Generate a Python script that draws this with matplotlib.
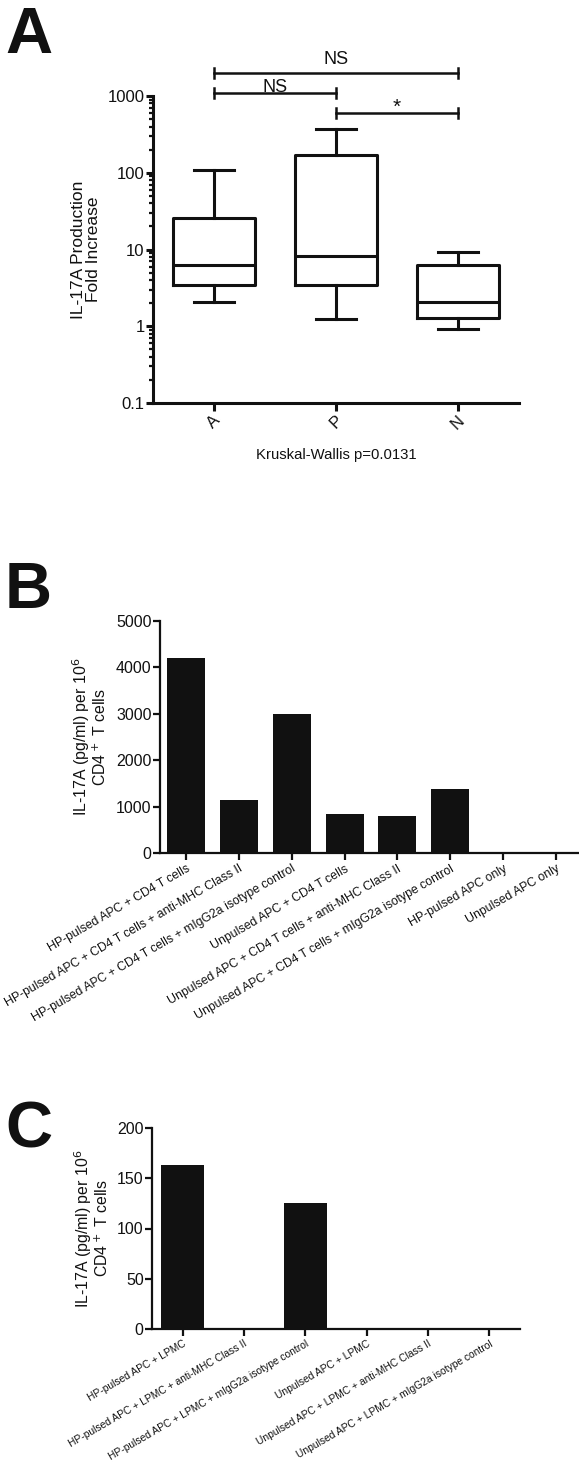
import matplotlib.pyplot as plt
import numpy as np

plt.rcParams['font.family'] = ['Liberation Sans', 'DejaVu Sans']

# Panel A: box plot stats (fold increase, log scale)
groups = ['A', 'P', 'N']
whis_low = [2.1, 1.26, 0.93]
q1 = [3.45, 3.45, 1.29]
medians = [6.3, 8.2, 2.1]
q3 = [26, 168, 6.3]
whis_high = [107, 374, 9.4]

# significance brackets: (left group, right group, height, label)
brackets = [(0, 2, 1995, 'NS'), (0, 1, 1094, 'NS'), (1, 2, 603, '*')]

# Panel B
b_labels = ['HP-pulsed APC + CD4 T cells',
            'HP-pulsed APC + CD4 T cells + anti-MHC Class II',
            'HP-pulsed APC + CD4 T cells + mIgG2a isotype control',
            'Unpulsed APC + CD4 T cells',
            'Unpulsed APC + CD4 T cells + anti-MHC Class II',
            'Unpulsed APC + CD4 T cells + mIgG2a isotype control',
            'HP-pulsed APC only',
            'Unpulsed APC only']
b_values = [4210, 1150, 2990, 830, 790, 1385, 0, 0]

# Panel C
c_labels = ['HP-pulsed APC + LPMC',
            'HP-pulsed APC + LPMC + anti-MHC Class II',
            'HP-pulsed APC + LPMC + mIgG2a isotype control',
            'Unpulsed APC + LPMC',
            'Unpulsed APC + LPMC + anti-MHC Class II',
            'Unpulsed APC + LPMC + mIgG2a isotype control']
c_values = [163.5, 0, 125, 0, 0, 0]

ink = '#111111'
W, H = 579, 1463
fig = plt.figure(figsize=(W / 100, H / 100), dpi=100)


def box(l, t, r, b):
    return [l / W, 1 - b / H, (r - l) / W, (b - t) / H]


def style(ax, lw, size):
    for s in ['top', 'right']:
        ax.spines[s].set_visible(False)
    for s in ['left', 'bottom']:
        ax.spines[s].set_linewidth(lw)
        ax.spines[s].set_color(ink)
    ax.tick_params(colors=ink, width=lw, length=5, labelsize=size, pad=1)


# ---- A ----
axA = fig.add_axes(box(153, 96, 519, 403))
stats = [dict(whislo=whis_low[i], q1=q1[i], med=medians[i], q3=q3[i],
              whishi=whis_high[i], fliers=[]) for i in range(3)]
lp = dict(color=ink, linewidth=2.2)
axA.bxp(stats, positions=range(3), widths=0.67, capwidths=0.33,
        showfliers=False, boxprops=lp, whiskerprops=lp, capprops=lp,
        medianprops=lp)
axA.set_yscale('log')
axA.set_ylim(0.1, 1000)
axA.set_xlim(-0.5, 2.5)
axA.set_yticks([0.1, 1, 10, 100, 1000])
axA.set_yticklabels(['0.1', '1', '10', '100', '1000'])
axA.set_xticks(range(3))
style(axA, 2.2, 12)
axA.set_xticklabels(groups, rotation=45, ha='center', va='top', fontsize=12)
axA.tick_params(axis='y', which='minor', length=3, width=1.6, colors=ink)
axA.tick_params(axis='x', length=6)
axA.set_ylabel('IL-17A Production\nFold Increase', fontsize=12.5,
               labelpad=5, color=ink, linespacing=1.0)
axA.set_xlabel('Kruskal-Wallis p=0.0131', fontsize=10.7, labelpad=12,
               color=ink)

cap = 5 / 76.75  # cap half-height in decades
for i, (g1, g2, yb, lab) in enumerate(brackets):
    ylo, yhi = yb / 10 ** cap, yb * 10 ** cap
    axA.plot([g1, g2], [yb, yb], color=ink, lw=1.8, clip_on=False)
    axA.plot([g1, g1], [ylo, yhi], color=ink, lw=1.8, clip_on=False)
    axA.plot([g2, g2], [ylo, yhi], color=ink, lw=1.8, clip_on=False)
    off = {0: 6.5, 1: 0.8, 2: 0.0}[i]
    axA.annotate(lab, ((g1 + g2) / 2, yb), xytext=(0, off),
                 textcoords='offset points', ha='center', va='baseline',
                 fontsize=15 if lab == '*' else 13, color=ink,
                 annotation_clip=False)

# ---- B ----
axB = fig.add_axes(box(160, 621, 582, 853))
axB.bar(range(len(b_values)), b_values, width=0.72, color=ink)
axB.set_xlim(-0.5, len(b_values) - 0.5)
axB.set_ylim(0, 5000)
axB.set_yticks(range(0, 5001, 1000))
axB.set_xticks(range(len(b_values)))
style(axB, 1.6, 11.5)
axB.set_xticklabels(b_labels, rotation=30, ha='right', rotation_mode='anchor',
                    fontsize=8.8)
axB.tick_params(axis='x', length=5, pad=2)
axB.set_ylabel('IL-17A (pg/ml) per 10$^6$\nCD4$^+$ T cells', fontsize=11.4,
               labelpad=5, color=ink, linespacing=1.0)

# ---- C ----
axC = fig.add_axes(box(152, 1128, 520, 1329))
axC.bar(range(len(c_values)), c_values, width=0.7, color=ink)
axC.set_xlim(-0.5, len(c_values) - 0.5)
axC.set_ylim(0, 200)
axC.set_yticks(range(0, 201, 50))
axC.set_xticks(range(len(c_values)))
style(axC, 1.6, 11.5)
axC.set_xticklabels(c_labels, rotation=30, ha='right', rotation_mode='anchor',
                    fontsize=7.4)
axC.tick_params(axis='x', length=5, pad=2)
axC.set_ylabel('IL-17A (pg/ml) per 10$^6$\nCD4$^+$ T cells', fontsize=11.4,
               labelpad=4, color=ink, linespacing=1.0)

# panel letters
for letter, ytop in [('A', 6), ('B', 561), ('C', 1101)]:
    fig.text(5 / W, 1 - ytop / H, letter, fontsize=47, fontweight='bold',
             va='top', ha='left', color=ink)

fig.savefig('out.png', dpi=100)
